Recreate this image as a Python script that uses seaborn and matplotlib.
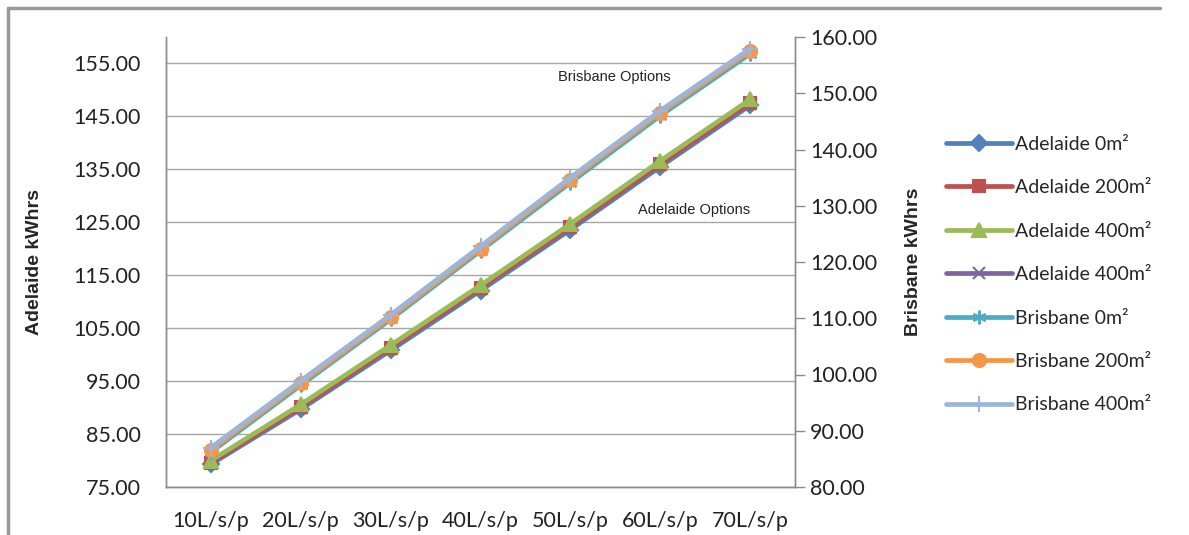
import matplotlib
matplotlib.use("Agg")
import matplotlib.pyplot as plt
from matplotlib.lines import Line2D
import seaborn as sns
import pandas as pd

# Flow rates per person (x categories)
flow_rates = ["10L/s/p", "20L/s/p", "30L/s/p", "40L/s/p", "50L/s/p", "60L/s/p", "70L/s/p"]

# Annual energy, Adelaide (left axis)
adelaide_0 = [79.3, 89.7, 100.8, 112.1, 123.6, 135.5, 147.1]
adelaide_200 = [79.6, 90.1, 101.3, 112.6, 124.1, 136.0, 147.6]
adelaide_400 = [80.0, 90.6, 101.8, 113.1, 124.7, 136.6, 148.2]
adelaide_400b = [79.5, 90.0, 101.1, 112.4, 123.9, 135.8, 147.4]

# Annual energy, Brisbane (right axis)
brisbane_0 = [86.2, 98.1, 109.8, 122.0, 134.1, 146.0, 157.0]
brisbane_200 = [86.6, 98.5, 110.2, 122.4, 134.6, 146.5, 157.5]
brisbane_400 = [87.0, 98.9, 110.6, 122.8, 135.0, 146.9, 157.9]

adelaide_labels = ["Adelaide 0m²", "Adelaide 200m²", "Adelaide 400m²", "Adelaide 400m²"]
brisbane_labels = ["Brisbane 0m²", "Brisbane 200m²", "Brisbane 400m²"]

sns.set_theme(style="white")
plt.rcParams["font.family"] = ["Lato", "DejaVu Sans"]

fig = plt.figure(figsize=(11.89, 5.35), dpi=100)
ax = fig.add_axes([166 / 1189, 1 - 487 / 535, (795 - 166) / 1189, (487 - 37) / 535])
ax2 = ax.twinx()

lw = 3.4
ms = 9.0
# colour, marker, size, drawing order
styles_a = [("#4F81BD", "D", ms * 0.95, 2.0), ("#C0504D", "s", ms, 2.2),
            ("#9BBB59", "^", ms * 1.1, 2.3), ("#8064A2", "x", ms, 1.9)]
styles_b = [("#4BACC6", (6, 2, 0), ms * 1.1, 2.0), ("#F79646", "o", ms * 1.05, 2.1),
            ("#9DB5D9", "+", ms * 1.3, 2.2)]

handles = []
for vals, lab, (c, m, s, z) in zip([adelaide_0, adelaide_200, adelaide_400, adelaide_400b],
                                   adelaide_labels, styles_a):
    df = pd.DataFrame({"flow": flow_rates, "kwh": vals})
    sns.lineplot(data=df, x="flow", y="kwh", ax=ax, color=c, linewidth=lw, marker=m,
                 markersize=s, markeredgecolor=c, markeredgewidth=1.5, sort=False, legend=False,
                 zorder=z)
    handles.append(Line2D([], [], color=c, lw=lw, marker=m, markersize=s, markeredgecolor=c,
                          markeredgewidth=1.5, label=lab))

for vals, lab, (c, m, s, z) in zip([brisbane_0, brisbane_200, brisbane_400], brisbane_labels, styles_b):
    df = pd.DataFrame({"flow": flow_rates, "kwh": vals})
    sns.lineplot(data=df, x="flow", y="kwh", ax=ax2, color=c, linewidth=lw, marker=m,
                 markersize=s, markeredgecolor=c, markeredgewidth=1.5, sort=False, legend=False,
                 zorder=z)
    handles.append(Line2D([], [], color=c, lw=lw, marker=m, markersize=s, markeredgecolor=c,
                          markeredgewidth=1.5, label=lab))

# Axes ranges and ticks
ax.set_xlim(-0.5, 6.5)
ax.set_ylim(75, 160)
ax.set_yticks([75, 85, 95, 105, 115, 125, 135, 145, 155])
ax.set_yticklabels([f"{v:.2f}" for v in ax.get_yticks()])
ax2.set_ylim(80, 160)
ax2.set_yticks(range(80, 161, 10))
ax2.set_yticklabels([f"{v:.2f}" for v in range(80, 161, 10)])

ax.yaxis.grid(True, color="#A6A6A6", linewidth=1.0)
ax.set_axisbelow(True)
ax.xaxis.grid(False)
ax2.grid(False)

grey = "#8C8C8C"
for a in (ax, ax2):
    a.spines["top"].set_visible(False)
    for side in ("left", "right", "bottom"):
        a.spines[side].set_color(grey)
        a.spines[side].set_linewidth(1.0)

tick_size = 15.5
ax.tick_params(axis="y", left=False, labelsize=tick_size, pad=12, colors="#222222")
ax.tick_params(axis="x", bottom=False, labelsize=tick_size, pad=11, colors="#222222")
ax2.tick_params(axis="y", right=True, direction="out", length=7, width=1, color=grey,
                labelsize=tick_size, pad=4, labelcolor="#222222")

ax.set_xlabel("")
ax.set_ylabel("Adelaide kWhrs", fontsize=14, fontweight="bold", family=["Liberation Sans"], labelpad=22)
ax2.set_ylabel("Brisbane kWhrs", fontsize=14, fontweight="bold", family=["Liberation Sans"], labelpad=20)

# Group annotations
ax2.text(4.49, 152.8, "Brisbane Options", fontsize=10.5, family=["Liberation Sans"],
         ha="center", va="center", color="#222222")
ax.text(5.38, 127.3, "Adelaide Options", fontsize=10.5, family=["Liberation Sans"],
        ha="center", va="center", color="#222222")

fig.legend(handles=handles, loc="upper left", bbox_to_anchor=(938 / 1189, 1 - 128 / 535),
           frameon=False, fontsize=14, handlelength=3.4, handletextpad=0.15, labelspacing=1.36,
           borderaxespad=0)

# Chart area border
fig.add_artist(Line2D([8 / 1189, 1160 / 1189], [1 - 8 / 535, 1 - 8 / 535], color="#999999", lw=2.5,
                      transform=fig.transFigure))
fig.add_artist(Line2D([8 / 1189, 8 / 1189], [0, 1 - 8 / 535], color="#999999", lw=2.5,
                      transform=fig.transFigure))

fig.savefig("out.png", dpi=100)
